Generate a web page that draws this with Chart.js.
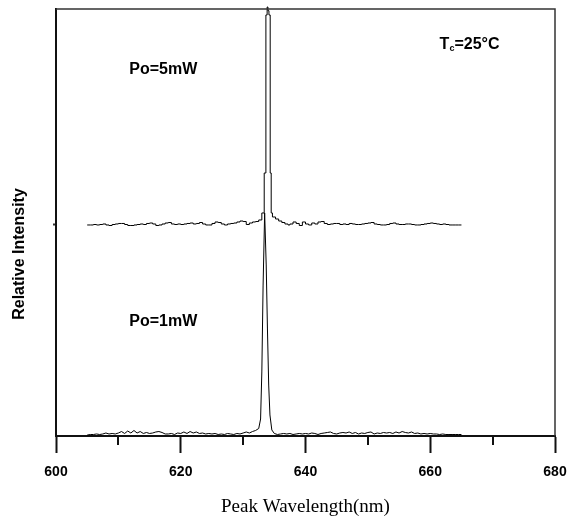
<!DOCTYPE html>
<html>
<head>
<meta charset="utf-8">
<script src="https://cdn.jsdelivr.net/npm/chart.js@4/dist/chart.umd.min.js"></script>
<style>
  html, body { margin: 0; padding: 0; background: #fff; }
  canvas { display: block; }
</style>
</head>
<body>
<canvas id="c" width="578" height="525"></canvas>
<script>
// ---------- data ----------
const xTickValues = [600, 610, 620, 630, 640, 650, 660, 670, 680];
const xTickLabels = ['600', '', '620', '', '640', '', '660', '', '680'];
const yTickMarks = [49.5];

const seriesNames = ['Po=5mW', 'Po=1mW'];

// Po = 5 mW spectrum (offset upward), wavelength in nm
const wl5 = [605.0,605.5,606.0,606.5,607.0,607.5,608.0,608.5,609.0,609.5,
  610.0,610.5,611.0,611.5,612.0,612.5,613.0,613.5,614.0,614.5,
  615.0,615.5,616.0,616.5,617.0,617.5,618.0,618.5,619.0,619.5,
  620.0,620.5,621.0,621.5,622.0,622.5,623.0,623.5,624.0,624.5,
  625.0,625.5,626.0,626.5,627.0,627.5,628.0,628.5,629.0,629.5,
  630.0,630.5,631.0,631.5,632.0,632.5,633.0,633.38,633.65,633.85,633.98,634.14,634.34,
  634.5,634.7,635.2,635.7,636.2,636.7,637.2,637.5,638.0,638.5,
  639.0,639.5,640.0,640.5,641.0,641.5,642.0,642.5,643.0,643.5,
  644.0,644.5,645.0,645.5,646.0,646.5,647.0,647.5,648.0,648.5,
  649.0,649.5,650.0,650.5,651.0,651.5,652.0,652.5,653.0,653.5,
  654.0,654.5,655.0,655.5,656.0,656.5,657.0,657.5,658.0,658.5,
  659.0,659.5,660.0,660.5,661.0,661.5,662.0,662.5,663.0,663.5,
  664.0,664.5,665.0];
const int5 = [49.42,49.42,49.53,49.42,49.53,49.65,49.42,49.30,49.53,49.65,
  49.77,49.77,49.53,49.30,49.30,49.42,49.53,49.65,49.53,49.77,
  49.88,49.65,49.30,49.42,49.65,49.88,50.00,49.65,49.53,49.65,
  49.53,49.65,49.77,49.88,49.65,49.77,50.00,49.65,49.42,49.42,
  49.77,50.12,50.00,49.65,49.42,49.65,49.77,49.88,50.12,50.35,
  50.23,49.53,49.88,50.12,50.23,50.59,52.23,61.59,98.6,100.47,99.6,98.6,61.59,
  52.23,51.29,50.82,50.35,50.00,49.65,49.42,49.65,50.12,49.77,
  49.30,50.12,49.65,49.42,49.88,49.65,50.12,50.23,49.77,49.53,
  49.65,49.77,49.77,49.53,49.65,49.53,49.77,49.65,49.53,49.53,
  49.65,49.77,49.88,50.00,49.65,49.53,49.42,49.42,49.53,49.77,
  49.88,49.65,49.53,49.53,49.65,49.65,49.53,49.42,49.42,49.53,
  49.65,49.77,49.88,49.77,49.65,49.53,49.65,49.53,49.42,49.42,
  49.42,49.42,49.42];

// Po = 1 mW spectrum (on the baseline)
const wl1 = [605.0,605.5,606.0,606.5,607.0,607.5,608.0,608.5,609.0,609.5,
  610.0,610.5,611.0,611.5,612.0,612.5,613.0,613.5,614.0,614.5,
  615.0,615.5,616.0,616.5,617.0,617.5,618.0,618.5,619.0,619.5,
  620.0,620.5,621.0,621.5,622.0,622.5,623.0,623.5,624.0,624.5,
  625.0,625.5,626.0,626.5,627.0,627.5,628.0,628.5,629.0,629.5,
  630.0,630.5,631.0,631.5,632.0,632.5,632.8,633.0,633.2,633.45,
  633.7,633.9,634.1,634.3,634.6,635.0,635.5,636.0,636.5,637.0,
  637.5,638.0,638.5,639.0,639.5,640.0,640.5,641.0,641.5,642.0,
  642.5,643.0,643.5,644.0,644.5,645.0,645.5,646.0,646.5,647.0,
  647.5,648.0,648.5,649.0,649.5,650.0,650.5,651.0,651.5,652.0,
  652.5,653.0,653.5,654.0,654.5,655.0,655.5,656.0,656.5,657.0,
  657.5,658.0,658.5,659.0,659.5,660.0,660.5,661.0,661.5,662.0,
  662.5,663.0,663.5,664.0,664.5,665.0];
const int1 = [0.23,0.35,0.35,0.47,0.35,0.47,0.70,0.47,0.59,0.47,
  0.70,1.05,0.59,1.17,0.70,1.29,0.70,1.05,0.59,0.82,
  0.59,0.70,0.94,1.05,0.82,0.47,0.47,0.59,0.35,0.70,
  0.59,0.94,0.59,1.05,0.70,0.94,0.59,0.70,0.47,0.59,
  0.47,0.59,0.35,0.47,0.35,0.59,0.47,0.35,0.59,0.47,
  0.70,0.94,0.70,1.05,1.29,1.76,3.98,14.99,35.13,52.23,
  40.05,25.06,11.94,4.92,1.41,0.59,0.35,0.47,0.59,0.47,
  0.59,0.35,0.47,0.59,0.47,0.59,0.47,0.70,0.59,0.35,
  0.59,0.70,0.82,0.94,0.59,0.47,0.70,0.82,0.70,0.94,
  0.59,0.82,0.47,0.70,0.59,0.82,0.94,0.47,0.70,0.59,
  0.82,0.70,0.82,0.59,0.94,0.70,1.05,0.82,0.70,0.94,
  0.59,0.70,0.47,0.59,0.47,0.59,0.47,0.47,0.35,0.47,
  0.35,0.35,0.35,0.35,0.35,0.35];

// text annotations placed in data coordinates
const noteTexts = ['Po=5mW', 'Po=1mW'];
const noteX = [617.2, 617.2];
const noteY = [85.7, 26.8];
const tempNote = { x: 661.5, y: 91.6, main: 'T', sub: 'c', rest: '=25', deg: '°', unit: 'C' };

const xTitle = 'Peak Wavelength(nm)';
const yTitle = 'Relative Intensity';

// ---------- chart ----------
const SANS = '"Liberation Sans", Arial, sans-serif';
const SERIF = '"Liberation Serif", "Times New Roman", serif';

const toPts = (xs, ys) => xs.map((v, i) => ({ x: v, y: ys[i] }));

const decorPlugin = {
  id: 'decor',
  afterDraw(chart) {
    const { ctx, chartArea: a, scales: { x, y } } = chart;
    ctx.save();
    // top & right frame
    ctx.strokeStyle = '#333';
    ctx.lineWidth = 1.5;
    ctx.beginPath();
    ctx.moveTo(a.left, a.top);
    ctx.lineTo(a.right, a.top);
    ctx.lineTo(a.right, a.bottom);
    ctx.stroke();
    // minor x ticks
    ctx.strokeStyle = '#111';
    ctx.lineWidth = 2;
    x.ticks.forEach(t => {
      if (t.value % 20 !== 0) {
        const px = Math.round(x.getPixelForValue(t.value));
        ctx.beginPath();
        ctx.moveTo(px, a.bottom);
        ctx.lineTo(px, a.bottom + 9);
        ctx.stroke();
      }
    });
    // annotations
    ctx.fillStyle = '#000';
    ctx.textBaseline = 'middle';
    ctx.textAlign = 'center';
    ctx.font = 'bold 16px ' + SANS;
    noteTexts.forEach((s, i) => {
      ctx.fillText(s, x.getPixelForValue(noteX[i]), y.getPixelForValue(noteY[i]));
    });
    // T_c=25°C
    ctx.textAlign = 'left';
    let px = x.getPixelForValue(tempNote.x);
    const py = y.getPixelForValue(tempNote.y);
    const big = 'bold 16px ' + SANS, small = 'bold 9px ' + SANS;
    ctx.font = big; ctx.fillText(tempNote.main, px, py); px += ctx.measureText(tempNote.main).width;
    ctx.font = small; ctx.fillText(tempNote.sub, px, py + 4); px += ctx.measureText(tempNote.sub).width;
    ctx.font = big; ctx.fillText(tempNote.rest, px, py); px += ctx.measureText(tempNote.rest).width;
    ctx.fillText(tempNote.deg, px, py); px += ctx.measureText(tempNote.deg).width;
    ctx.fillText(tempNote.unit, px, py);
    // y title
    ctx.translate(20, 254);
    ctx.rotate(-Math.PI / 2);
    ctx.textAlign = 'center';
    ctx.font = 'bold 16px ' + SANS;
    ctx.fillText(yTitle, 0, 0);
    ctx.restore();
  }
};

new Chart(document.getElementById('c'), {
  type: 'line',
  data: {
    datasets: [
      { label: seriesNames[0], data: toPts(wl5, int5), borderColor: '#000', borderWidth: 1,
        pointRadius: 0, fill: false, stepped: true, clip: false },
      { label: seriesNames[1], data: toPts(wl1, int1), borderColor: '#000', borderWidth: 1,
        pointRadius: 0, fill: false, tension: 0 }
    ]
  },
  options: {
    responsive: false,
    animation: false,
    devicePixelRatio: 1,
    layout: { padding: { left: 0, right: 23, top: 9, bottom: 0 } },
    plugins: { legend: { display: false }, tooltip: { enabled: false } },
    scales: {
      x: {
        type: 'linear', min: 600, max: 680,
        afterBuildTicks: s => { s.ticks = xTickValues.map(v => ({ value: v })); },
        afterFit: s => { s.height = 89; s.paddingLeft = 0; s.paddingRight = 0; },
        ticks: {
          autoSkip: false, maxRotation: 0, padding: 11, color: '#000',
          font: { family: SANS, size: 14, weight: 'bold' },
          callback: (v) => { const i = xTickValues.indexOf(v); return i >= 0 ? xTickLabels[i] : ''; }
        },
        grid: {
          display: true, drawOnChartArea: false, drawTicks: true, tickLength: 17, tickWidth: 2,
          tickColor: c => (c.tick && c.tick.value % 20 === 0) ? '#111' : 'rgba(0,0,0,0)'
        },
        border: { display: true, color: '#111', width: 2 },
        title: { display: true, text: xTitle, color: '#000',
          font: { family: SERIF, size: 19, weight: 'normal' }, padding: { top: 0, bottom: 7 } }
      },
      y: {
        type: 'linear', min: 0, max: 100,
        afterBuildTicks: s => { s.ticks = yTickMarks.map(v => ({ value: v })); },
        afterFit: s => { s.width = 56; },
        ticks: { display: false },
        grid: { display: true, drawOnChartArea: false, drawTicks: true, tickLength: 3, tickWidth: 2, tickColor: '#333' },
        border: { display: true, color: '#111', width: 2 },
        title: { display: false }
      }
    }
  },
  plugins: [decorPlugin]
});
</script>
</body>
</html>
